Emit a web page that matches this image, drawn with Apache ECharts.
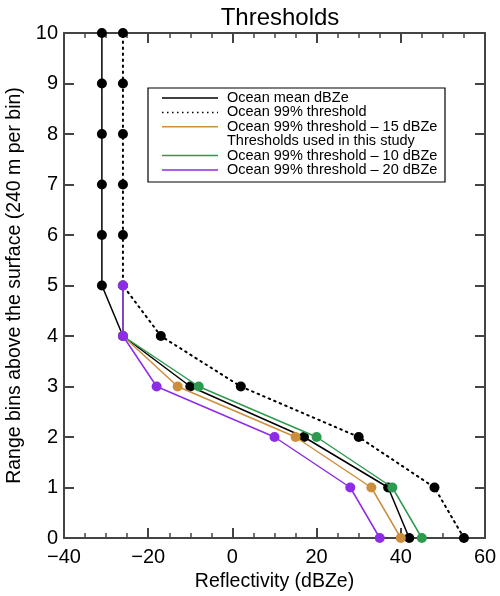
<!DOCTYPE html>
<html><head><meta charset="utf-8">
<script src="https://cdn.jsdelivr.net/npm/echarts@6/dist/echarts.min.js"></script>
<style>html,body{margin:0;padding:0;background:#fff}#c{width:500px;height:596px}</style>
</head><body><div id="c"></div>
<script>
var bins = [0,1,2,3,4,5,6,7,8,9,10];
var oceanMean = [42,37,17,-10,-26,-31,-31,-31,-31,-31,-31];
var ocean99 = [55,48,30,2,-17,-26,-26,-26,-26,-26,-26];
var thrBins = [0,1,2,3,4,5];
var thr15 = [40,33,15,-13,-26,-26];
var thr10 = [45,38,20,-8,-26,-26];
var thr20 = [35,28,10,-18,-26,-26];
var xTicks = [-40,-20,0,20,40,60];
var legendLabels = ['Ocean mean dBZe','Ocean 99% threshold','Ocean 99% threshold \u2013 15 dBZe','Thresholds used in this study','Ocean 99% threshold \u2013 10 dBZe','Ocean 99% threshold \u2013 20 dBZe'];

var ORANGE='#CD8E3C', GREEN='#2E9A50', PURPLE='#8E2BE6';
var FONT='Liberation Sans, Arial, Helvetica, sans-serif';
function pairs(xs, ys){return xs.map(function(v,i){return [v, ys[i]];});}

var chart = echarts.init(document.getElementById('c'), null, {renderer:'canvas'});
var axisCol='#444';
function xAx(show){return {type:'value',min:xTicks[0],max:xTicks[xTicks.length-1],interval:20,position:show?'bottom':'top',
  axisLine:{show:true,onZero:false,lineStyle:{color:axisCol,width:2}},
  axisTick:{show:true,inside:true,length:10,lineStyle:{color:axisCol,width:2}},
  minorTick:{show:true,splitNumber:4,length:5,lineStyle:{color:axisCol,width:1.5}},
  axisLabel:{show:show,color:'#000',fontSize:20,fontFamily:FONT,margin:9,formatter:function(v){return v<0?'\u2212'+(-v):''+v;}},
  splitLine:{show:false},
  name:show?'Reflectivity (dBZe)':'',nameLocation:'middle',nameGap:34,nameTextStyle:{color:'#000',fontSize:19.5,fontFamily:FONT}};}
function yAx(show){return {type:'value',min:0,max:10,interval:1,position:show?'left':'right',
  axisLine:{show:true,onZero:false,lineStyle:{color:axisCol,width:2}},
  axisTick:{show:true,inside:true,length:10,lineStyle:{color:axisCol,width:2}},
  axisLabel:{show:show,color:'#000',fontSize:20,fontFamily:FONT,margin:6},
  splitLine:{show:false},
  name:show?'Range bins above the surface (240 m per bin)':'',nameLocation:'middle',nameGap:39,nameTextStyle:{color:'#000',fontSize:19.5,fontFamily:FONT}};}

function ser(name,data,color,dashed,z){return {name:name,type:'line',data:data,xAxisIndex:0,yAxisIndex:0,
  symbol:'circle',symbolSize:10,showSymbol:true,itemStyle:{color:color},clip:true,
  lineStyle:{color:color,width:dashed?2:1.5,type:dashed?[1.5,4.5]:'solid',cap:'round'},z:z,animation:false};}

var lx0=162,lx1=218,ltx=227,ly0=98,ldy=14.4;
var legendGraphics=[{type:'rect',shape:{x:148,y:88,width:297,height:94},style:{fill:'#fff',stroke:'#000',lineWidth:1.2},z:100}];
var legendStyles=[{c:'#000',d:null},{c:'#000',d:[1.5,3.5]},{c:ORANGE,d:null},null,{c:GREEN,d:null},{c:PURPLE,d:null}];
legendLabels.forEach(function(t,i){
  var y=ly0+i*ldy, s=legendStyles[i];
  if(s){legendGraphics.push({type:'line',shape:{x1:lx0,y1:y,x2:lx1,y2:y},style:{stroke:s.c,lineWidth:1.5,lineDash:s.d},z:101});}
  legendGraphics.push({type:'text',x:ltx,y:y,style:{text:t,fill:'#000',font:'14.5px '+FONT,textVerticalAlign:'middle',textBaseline:'middle'},z:101});
});

chart.setOption({
  animation:false,
  backgroundColor:'#fff',
  title:{text:'Thresholds',left:275,top:1,textAlign:'center',textStyle:{color:'#000',fontSize:24,fontWeight:'normal',fontFamily:FONT}},
  grid:{left:64,right:15,top:33,bottom:58,containLabel:false,outerBoundsMode:'none'},
  xAxis:[xAx(true),xAx(false)],
  yAxis:[yAx(true),yAx(false)],
  series:[
    ser('Ocean 99% threshold',pairs(ocean99,bins),'#000',true,2),
    ser('Ocean mean dBZe',pairs(oceanMean,bins),'#000',false,3),
    ser('Ocean 99% threshold - 15 dBZe',pairs(thr15,thrBins),ORANGE,false,4),
    ser('Ocean 99% threshold - 10 dBZe',pairs(thr10,thrBins),GREEN,false,5),
    ser('Ocean 99% threshold - 20 dBZe',pairs(thr20,thrBins),PURPLE,false,6)
  ],
  graphic:legendGraphics
});
</script></body></html>
